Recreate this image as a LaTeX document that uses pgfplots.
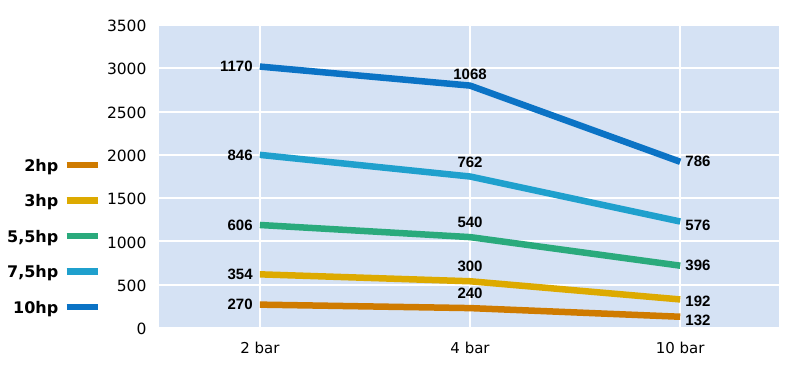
\documentclass[border=0pt]{standalone}
\usepackage{pgfplots}
\pgfplotsset{compat=1.18}
\usepackage{pgfplotstable}
\usepackage{fontspec}
\setmainfont{DejaVu Sans}
\newfontfamily\labfont{Liberation Sans}
\definecolor{bg}{HTML}{D5E2F4}
\definecolor{c2}{HTML}{CF7B00}
\definecolor{c3}{HTML}{DDAA00}
\definecolor{c55}{HTML}{2AAA7C}
\definecolor{c75}{HTML}{1FA0CD}
\definecolor{c10}{HTML}{0B73C5}

\pgfplotstableread{
x y lab
0 270 270
1 230 240
2 130 132
}\tA
\pgfplotstableread{
x y lab
0 620 354
1 540 300
2 330 192
}\tB
\pgfplotstableread{
x y lab
0 1190 606
1 1050 540
2 720 396
}\tC
\pgfplotstableread{
x y lab
0 2000 846
1 1750 762
2 1230 576
}\tD
\pgfplotstableread{
x y lab
0 3020 1170
1 2800 1068
2 1920 786
}\tE

\pgfplotsset{lab/.style={line width=6.5pt, line join=round, no markers, forget plot,
  point meta=explicit symbolic,
  nodes near coords,
  every node near coord/.append style={font=\labfont\bfseries\fontsize{15}{18}\selectfont, text=black, inner sep=2pt},
  coordinate style/.condition={\coordindex==0}{anchor=east, xshift=-2pt},
  coordinate style/.condition={\coordindex==1}{anchor=south, yshift=4pt},
  coordinate style/.condition={\coordindex==2}{anchor=west, xshift=0pt},
  }}

\begin{document}
\begin{tikzpicture}
\path[use as bounding box] (0pt,0pt) rectangle (800pt,368pt);
\begin{axis}[
  at={(159pt,40pt)}, anchor=south west, scale only axis,
  width=620pt, height=303pt,
  xmin=-0.48, xmax=2.47, ymin=0, ymax=3500,
  xtick={0,1,2}, xticklabels={2 bar,4 bar,10 bar},
  ytick={0,500,...,3500},
  grid=major, major grid style={white, line width=2pt},
  axis line style={draw=none}, tick style={draw=none},
  axis background/.style={fill=bg},
  yticklabel style={font=\fontsize{15.5}{18}\selectfont, xshift=-9pt, yshift=-1pt},
  xticklabel style={font=\fontsize{15}{18}\selectfont, yshift=-11pt},
  /pgf/number format/1000 sep={}, /pgf/number format/assume math mode=true,
  legend plot pos=right, legend cell align=right,
  legend style={at={(axis description cs:-0.0935,0.3036)}, anchor=east,
    draw=none, fill=none, inner sep=0pt, row sep=23.5pt, column sep=5pt,
    font=\bfseries\fontsize{16}{19}\selectfont,
    nodes={inner sep=0pt, text height=12pt, text depth=0pt}},
  legend image code/.code={\draw[#1, line width=6.5pt, line cap=butt] (0pt,0pt) -- (31pt,0pt);},
]
\addplot[c2, lab, coordinate style/.condition={\coordindex==2}{yshift=-4pt}] table[x=x, y=y, meta=lab]{\tA};
\addplot[c3, lab, coordinate style/.condition={\coordindex==2}{yshift=-2pt}] table[x=x, y=y, meta=lab]{\tB};
\addplot[c55, lab] table[x=x, y=y, meta=lab]{\tC};
\addplot[c75, lab, coordinate style/.condition={\coordindex==2}{yshift=-3.5pt}] table[x=x, y=y, meta=lab]{\tD};
\addplot[c10, lab, coordinate style/.condition={\coordindex==1}{yshift=-3pt}] table[x=x, y=y, meta=lab]{\tE};
\addlegendimage{c2}
\addlegendentry{2hp}
\addlegendimage{c3}
\addlegendentry{3hp}
\addlegendimage{c55}
\addlegendentry{5,5hp}
\addlegendimage{c75}
\addlegendentry{7,5hp}
\addlegendimage{c10}
\addlegendentry{10hp}
\end{axis}
\end{tikzpicture}
\end{document}
